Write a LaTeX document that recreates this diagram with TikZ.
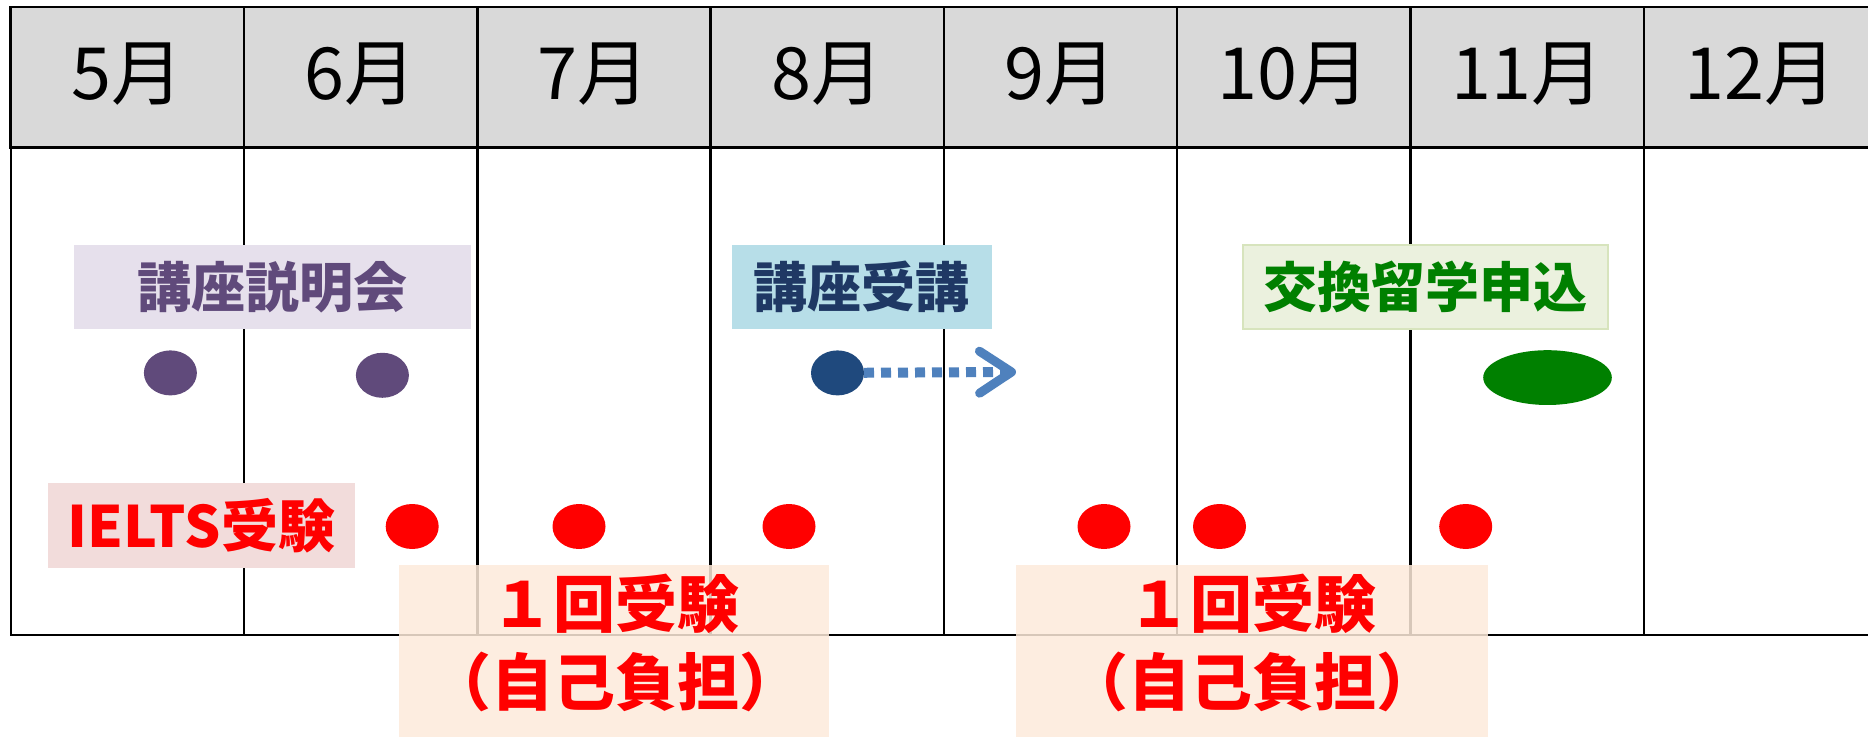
\documentclass[tikz,border=0pt]{standalone}
\usepackage{fontspec}
\setmainfont{Noto Sans CJK JP}
\usetikzlibrary{positioning,shapes.geometric,arrows.meta}
\definecolor{hdrgray}{HTML}{D9D9D9}
\definecolor{setsumeifill}{HTML}{E6E0EC}
\definecolor{setsumeitext}{HTML}{604A7B}
\definecolor{jukoufill}{HTML}{B7DEE8}
\definecolor{jukoutext}{HTML}{1F3864}
\definecolor{jukoudot}{HTML}{1F497D}
\definecolor{jukouarrow}{HTML}{4F81BD}
\definecolor{koukanfill}{HTML}{EBF1DE}
\definecolor{koukanline}{HTML}{D7E4BD}
\definecolor{koukantext}{HTML}{008000}
\definecolor{ieltsfill}{HTML}{F2DCDB}
\definecolor{ieltsred}{HTML}{FF0000}
\definecolor{selfpayfill}{HTML}{FDEADA}

\begin{document}
\begin{tikzpicture}[x=0.5pt, y=-0.5pt,
  every node/.style={inner sep=0pt, outer sep=0pt},
  month/.style={draw, line width=1.25pt, fill=hdrgray, minimum width=116.65pt, minimum height=70.3pt, text depth=6pt, font=\fontsize{36}{36}\selectfont},
  cell/.style={draw, line width=1.2pt, minimum width=116.65pt, minimum height=243.6pt},
  tag/.style={minimum height=41.7pt, font=\bfseries\fontsize{27}{27}\selectfont},
  dot/.style={ellipse, minimum width=26.5pt, minimum height=22.5pt},
  selfpay/.style={fill=selfpayfill, fill opacity=0.85, minimum width=215pt, minimum height=86pt},
  selfpaytext/.style={text=ieltsred, align=center, font=\bfseries\fontsize{31}{39}\selectfont}]
\useasboundingbox (0,0) rectangle (1868,737);
\node (m5)[month, anchor=north west] at (10.7,7.1) {5月};
\node (m6)[month] [right=0pt of m5] {6月};
\node (m7)[month] [right=0pt of m6] {7月};
\node (m8)[month] [right=0pt of m7] {8月};
\node (m9)[month] [right=0pt of m8] {9月};
\node (m10)[month] [right=0pt of m9] {10月};
\node (m11)[month] [right=0pt of m10] {11月};
\node (m12)[month] [right=0pt of m11] {12月};
\node (c5)[cell] [below=0pt of m5] {};
\node (c6)[cell] [below=0pt of m6] {};
\node (c7)[cell] [below=0pt of m7] {};
\node (c8)[cell] [below=0pt of m8] {};
\node (c9)[cell] [below=0pt of m9] {};
\node (c10)[cell] [below=0pt of m10] {};
\node (c11)[cell] [below=0pt of m11] {};
\node (c12)[cell] [below=0pt of m12] {};
\node (setsumei)[tag, fill=setsumeifill, text=setsumeitext, minimum width=198.4pt] at (272.2,287.1) {講座説明会};
\node (jukou)[tag, fill=jukoufill, text=jukoutext, minimum width=130.4pt] at (861.9,287.1) {講座受講};
\node (koukan)[tag, fill=koukanfill, draw=koukanline, line width=1pt, text=koukantext, minimum width=182.9pt] at (1425.4,287.1) {交換留学申込};
\node (ielts)[tag, fill=ieltsfill, text=ieltsred, minimum width=153.7pt, minimum height=42.7pt, font=\bfseries\fontsize{28.5}{28.5}\selectfont] at (201.3,525.7) {IELTS受験};
\node (s1)[dot, fill=setsumeitext] at (170.4,372.9) {};
\node (s2)[dot, fill=setsumeitext] at (382.4,375.3) {};
\node (jk)[dot, fill=jukoudot] at (837.5,372.9) {};
\coordinate (jkend) at (1016,372);
\draw[jukouarrow, line width=5pt, dash pattern=on 5pt off 3.5pt, -{Straight Barb[length=16pt, width=21pt, line width=4.5pt, round]}] (jk) -- (jkend);
\node (k)[dot, fill=koukantext, minimum width=64.3pt, minimum height=27.4pt] at (1547.5,377.6) {};
\node (i1)[dot, fill=ieltsred] at (412.2,526.5) {};
\node (i2)[dot, fill=ieltsred] at (579,526.5) {};
\node (i3)[dot, fill=ieltsred] at (789,526.5) {};
\node (i4)[dot, fill=ieltsred] at (1104,526.5) {};
\node (i5)[dot, fill=ieltsred] at (1219.5,526.5) {};
\node (i6)[dot, fill=ieltsred] at (1465.7,526.5) {};
\node (kai1)[selfpay] at (614,651) {};
\node (kai2)[selfpay, minimum width=235.8pt] at (1251.8,651) {};
\node (kai1t)[selfpaytext] at (615,643) {１回受験\\（自己負担）};
\node (kai2t)[selfpaytext] at (1252,643) {１回受験\\（自己負担）};
\end{tikzpicture}
\end{document}
